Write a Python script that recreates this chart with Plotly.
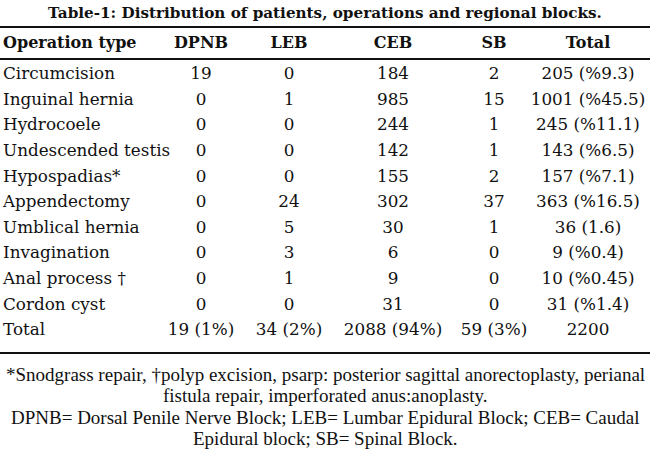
import plotly.graph_objects as go

# ---- data ----
title = "Table-1: Distribution of patients, operations and regional blocks."
headers = ["Operation type", "DPNB", "LEB", "CEB", "SB", "Total"]
operations = ["Circumcision", "Inguinal hernia", "Hydrocoele", "Undescended testis",
              "Hypospadias*", "Appendectomy", "Umblical hernia", "Invagination",
              "Anal process †", "Cordon cyst"]
dpnb = [19, 0, 0, 0, 0, 0, 0, 0, 0, 0]
leb = [0, 1, 0, 0, 0, 24, 5, 3, 1, 0]
ceb = [184, 985, 244, 142, 155, 302, 30, 6, 9, 31]
sb = [2, 15, 1, 1, 2, 37, 1, 0, 0, 0]
row_total = [205, 1001, 245, 143, 157, 363, 36, 9, 10, 31]
row_pct = ["%9.3", "%45.5", "%11.1", "%6.5", "%7.1", "%16.5", "1.6", "%0.4", "%0.45", "%1.4"]
total_label = "Total"
col_total = [19, 34, 2088, 59]
col_pct = ["1%", "2%", "94%", "3%"]
grand_total = 2200
footnotes = [
    "*Snodgrass repair, †polyp excision, psarp: posterior sagittal anorectoplasty, perianal",
    "fistula repair, imperforated anus:anoplasty.",
    "DPNB= Dorsal Penile Nerve Block; LEB= Lumbar Epidural Block; CEB= Caudal",
    "Epidural block; SB= Spinal Block.",
]

# ---- layout constants ----
W, H = 650, 452
FONT = "DejaVu Serif"
FOOT_FONT = "Liberation Serif"
name_x = 3
col_x = [201, 289, 393, 494, 588]
title_y = 13
header_y = 44
row_y0 = 75
row_dy = 25.6
foot_y0 = 374
foot_dy = 21.5

fig = go.Figure()

# body rows
n = len(operations)
row_ys = [row_y0 + i * row_dy for i in range(n + 1)]
names = operations + [total_label]
fig.add_trace(go.Scatter(
    x=[name_x] * (n + 1), y=row_ys, text=names, mode="text",
    textposition="middle right",
    textfont=dict(family=FONT, size=16.8, color="#111"),
    hoverinfo="skip", showlegend=False))

columns = [
    [str(v) for v in dpnb] + [f"{col_total[0]} ({col_pct[0]})"],
    [str(v) for v in leb] + [f"{col_total[1]} ({col_pct[1]})"],
    [str(v) for v in ceb] + [f"{col_total[2]} ({col_pct[2]})"],
    [str(v) for v in sb] + [f"{col_total[3]} ({col_pct[3]})"],
    [f"{t} ({p})" for t, p in zip(row_total, row_pct)] + [str(grand_total)],
]
for cx, col in zip(col_x, columns):
    fig.add_trace(go.Scatter(
        x=[cx] * len(col), y=row_ys, text=col, mode="text",
        textposition="middle center",
        textfont=dict(family=FONT, size=16.8, color="#111"),
        hoverinfo="skip", showlegend=False))

# header
fig.add_trace(go.Scatter(
    x=[name_x], y=[header_y], text=["<b>" + headers[0] + "</b>"], mode="text",
    textposition="middle right",
    textfont=dict(family=FONT, size=16, color="#111"),
    hoverinfo="skip", showlegend=False))
fig.add_trace(go.Scatter(
    x=col_x, y=[header_y] * 5, text=["<b>" + h + "</b>" for h in headers[1:]],
    mode="text", textposition="middle center",
    textfont=dict(family=FONT, size=16, color="#111"),
    hoverinfo="skip", showlegend=False))

# title
fig.add_annotation(x=W / 2, y=title_y, text="<b>" + title + "</b>", showarrow=False,
                   xref="x", yref="y", xanchor="center", yanchor="middle",
                   font=dict(family=FONT, size=15.2, color="#111"))

# footnotes
for i, line in enumerate(footnotes):
    fig.add_annotation(x=W / 2, y=foot_y0 + i * foot_dy, text=line, showarrow=False,
                       xref="x", yref="y", xanchor="center", yanchor="middle",
                       font=dict(family=FOOT_FONT, size=19, color="#111"))

# rules
for yy in (27, 59, 353):
    fig.add_shape(type="line", x0=0, x1=W, y0=yy, y1=yy, xref="x", yref="y",
                  line=dict(color="#111", width=2.2))

fig.update_xaxes(range=[0, W], visible=False, fixedrange=True)
fig.update_yaxes(range=[H, 0], visible=False, fixedrange=True)
fig.update_layout(width=W, height=H, margin=dict(l=0, r=0, t=0, b=0),
                  plot_bgcolor="white", paper_bgcolor="white")

fig.write_html("out.html", config={"displayModeBar": False},
               post_script="document.body.style.margin='0';document.body.style.overflow='hidden';")
